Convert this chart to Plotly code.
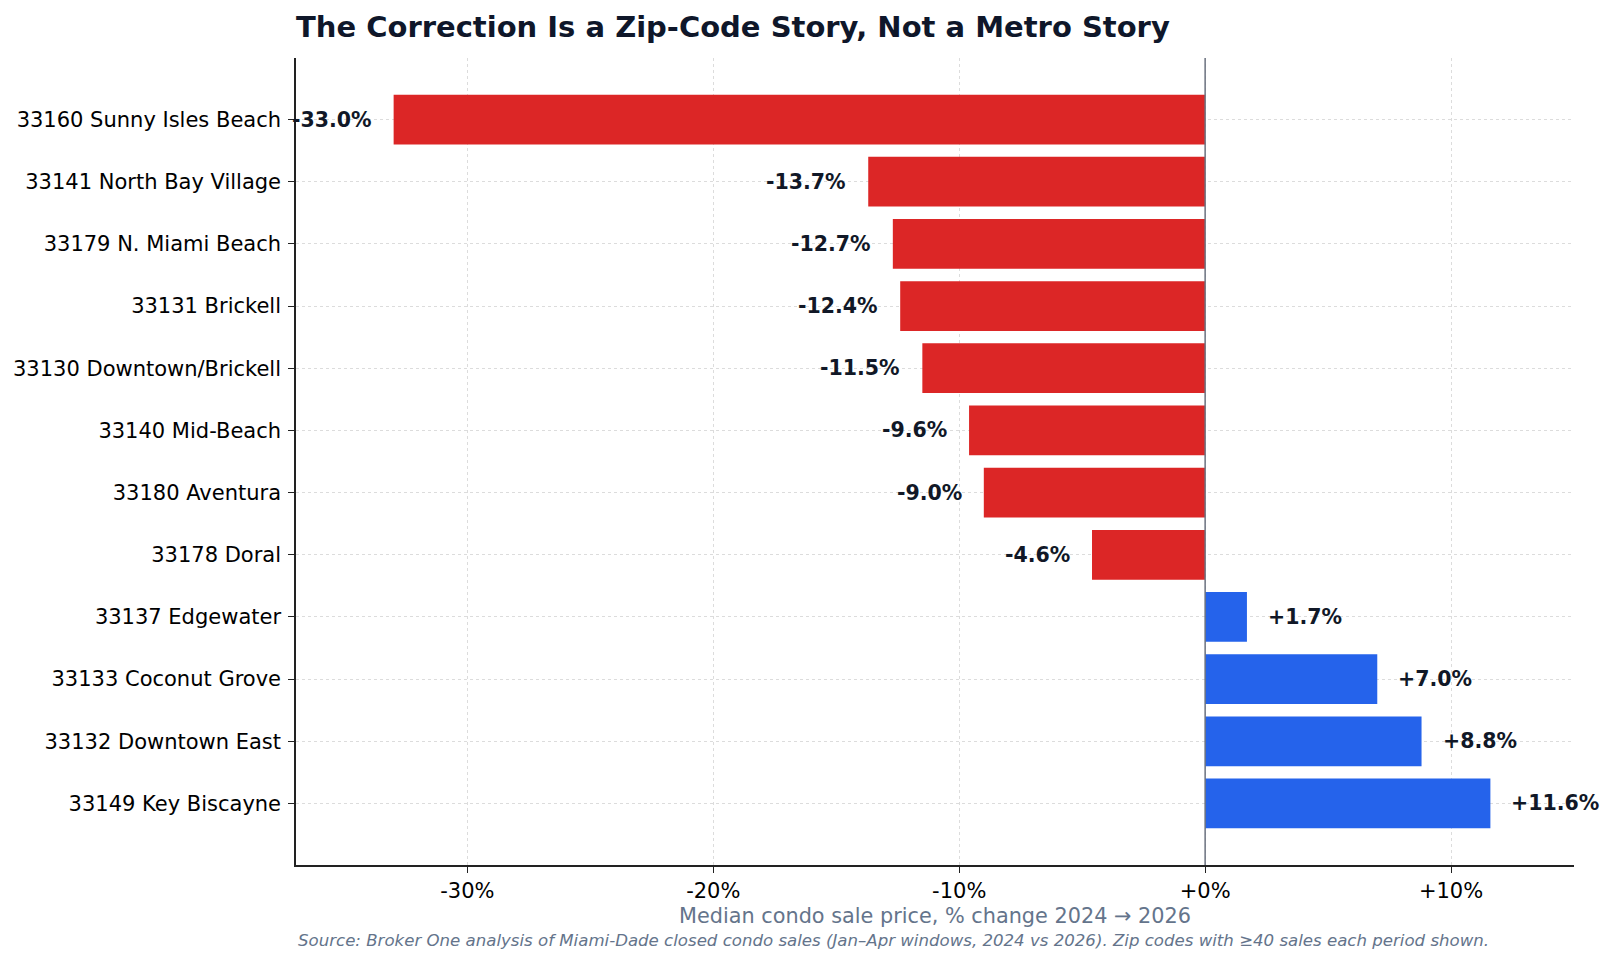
import plotly.graph_objects as go

zips = ["33160 Sunny Isles Beach", "33141 North Bay Village", "33179 N. Miami Beach",
        "33131 Brickell", "33130 Downtown/Brickell", "33140 Mid-Beach", "33180 Aventura",
        "33178 Doral", "33137 Edgewater", "33133 Coconut Grove", "33132 Downtown East",
        "33149 Key Biscayne"]
pct_change = [-33.0, -13.7, -12.7, -12.4, -11.5, -9.6, -9.0, -4.6, 1.7, 7.0, 8.8, 11.6]
x_ticks = [-30, -20, -10, 0, 10]
x_tick_labels = ["-30%", "-20%", "-10%", "+0%", "+10%"]

RED = "#dc2626"
BLUE = "#2563eb"
DARK = "#111827"
GRAY = "#64748b"
FONT = "DejaVu Sans"

colors = [RED if v < 0 else BLUE for v in pct_change]

fig = go.Figure()
fig.add_trace(go.Bar(
    x=pct_change, y=zips, orientation="h",
    marker=dict(color=colors, line=dict(width=0)),
    hoverinfo="skip",
))

for name, v in zip(zips, pct_change):
    fig.add_annotation(
        x=v, y=name, xref="x", yref="y",
        text=f"<b>{v:+.1f}%</b>",
        showarrow=False,
        xanchor="right" if v < 0 else "left",
        xshift=-20 if v < 0 else 19,
        font=dict(family=FONT, size=20.5, color=DARK),
    )

fig.add_shape(type="line", xref="x", yref="paper", x0=0, x1=0, y0=0, y1=1,
              line=dict(color="#6b7280", width=1.5), layer="above")

fig.update_layout(
    width=1615, height=966,
    margin=dict(l=296, r=41, t=58, b=101),
    paper_bgcolor="white", plot_bgcolor="white",
    showlegend=False,
    bargap=0.2,
    font=dict(family=FONT, size=21, color="black"),
    title=dict(
        text="<b>The Correction Is a Zip-Code Story, Not a Metro Story</b>",
        x=296 / 1615, xanchor="left", y=1 - 27 / 966, yanchor="middle",
        font=dict(family=FONT, size=29, color="#0f172a"),
    ),
    xaxis=dict(
        range=[-36.97, 15.0],
        tickvals=x_ticks, ticktext=x_tick_labels,
        showline=True, linecolor="#222222", linewidth=1.5,
        ticks="outside", ticklen=6, tickcolor="#222222", tickwidth=1.2,
        showgrid=True, gridcolor="#dcdcdc", griddash="dot", gridwidth=1,
        zeroline=False,
        tickfont=dict(family=FONT, size=21, color="black"),
        title=dict(text="Median condo sale price, % change 2024 → 2026",
                   font=dict(family=FONT, size=20.8, color=GRAY), standoff=6),
    ),
    yaxis=dict(
        categoryorder="array", categoryarray=zips,
        range=[11.99, -0.99],
        showline=True, linecolor="#222222", linewidth=1.5,
        ticks="outside", ticklen=6, tickcolor="#222222", tickwidth=1.2,
        ticklabelstandoff=3,
        showgrid=True, gridcolor="#dcdcdc", griddash="dot", gridwidth=1,
        zeroline=False,
        tickfont=dict(family=FONT, size=21, color="black"),
    ),
)

plot_h = 966 - 58 - 101
fig.add_annotation(
    x=0, xref="paper", xanchor="left",
    y=(966 - 101 - 940) / plot_h, yref="paper", yanchor="middle",
    text="<i>Source: Broker One analysis of Miami-Dade closed condo sales (Jan–Apr windows, 2024 vs 2026). Zip codes with ≥40 sales each period shown.</i>",
    showarrow=False,
    font=dict(family=FONT, size=16.6, color=GRAY),
)

fig.write_html("out.html")
